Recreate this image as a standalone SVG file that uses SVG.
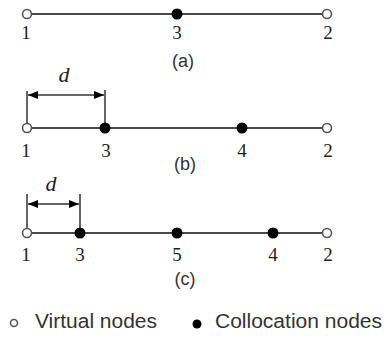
<svg xmlns="http://www.w3.org/2000/svg" width="384" height="340" viewBox="0 0 384 340">
<style>
.ln{stroke:#4a4a4a;stroke-width:1.8;fill:none}
.tk{stroke:#333;stroke-width:1.5;fill:none}
.vn{fill:#fff;stroke:#555;stroke-width:1.6}
.cn{fill:#000}
.num{font-family:"Liberation Serif",serif;font-size:19px;fill:#222;text-anchor:middle}
.cap{font-family:"Liberation Sans",sans-serif;font-size:18px;fill:#333;text-anchor:middle}
.d{font-family:"Liberation Serif",serif;font-style:italic;font-size:22px;fill:#222;text-anchor:middle}
.leg{font-family:"Liberation Sans",sans-serif;font-size:20px;fill:#333}
</style>
<defs>
<marker id="ah" viewBox="0 0 10 10" refX="10" refY="5" markerWidth="10" markerHeight="10" markerUnits="userSpaceOnUse" orient="auto-start-reverse">
<path d="M0,1 L10,5 L0,9 Z" fill="#000"/>
</marker>
</defs>
<g id="connectors">
<line class="ln" x1="27" y1="14" x2="327" y2="14"/>
<line class="ln" x1="27" y1="128" x2="327" y2="128"/>
<line class="ln" x1="27" y1="233" x2="327" y2="233"/>
<line class="tk" x1="27" y1="91" x2="27" y2="128"/>
<line class="tk" x1="105" y1="90" x2="105" y2="128"/>
<line class="tk" x1="28" y1="95" x2="104" y2="95" marker-start="url(#ah)" marker-end="url(#ah)"/>
<line class="tk" x1="27" y1="194" x2="27" y2="233"/>
<line class="tk" x1="80" y1="194" x2="80" y2="233"/>
<line class="tk" x1="28" y1="204" x2="79" y2="204" marker-start="url(#ah)" marker-end="url(#ah)"/>
</g>
<g id="row-a">
<circle id="a1" class="vn" cx="27" cy="14" r="4.5"/>
<circle id="a3" class="cn" cx="177" cy="14" r="5.5"/>
<circle id="a2" class="vn" cx="327" cy="14" r="4.5"/>
<text class="num" x="26" y="39">1</text>
<text class="num" x="177" y="39">3</text>
<text class="num" x="328" y="39">2</text>
<text class="cap" x="183" y="67">(a)</text>
</g>
<g id="row-b">
<text class="d" x="64" y="82">d</text>
<circle id="b1" class="vn" cx="27" cy="128" r="4.5"/>
<circle id="b3" class="cn" cx="105" cy="128" r="5.5"/>
<circle id="b4" class="cn" cx="242" cy="128" r="5.5"/>
<circle id="b2" class="vn" cx="327" cy="128" r="4.5"/>
<text class="num" x="26" y="157">1</text>
<text class="num" x="106" y="157">3</text>
<text class="num" x="242" y="157">4</text>
<text class="num" x="328" y="157">2</text>
<text class="cap" x="185" y="170">(b)</text>
</g>
<g id="row-c">
<text class="d" x="51" y="191">d</text>
<circle id="c1" class="vn" cx="27" cy="233" r="4.5"/>
<circle id="c3" class="cn" cx="80" cy="233" r="5.5"/>
<circle id="c5" class="cn" cx="177" cy="233" r="5.5"/>
<circle id="c4" class="cn" cx="273" cy="233" r="5.5"/>
<circle id="c2" class="vn" cx="327" cy="233" r="4.5"/>
<text class="num" x="26" y="261">1</text>
<text class="num" x="80" y="261">3</text>
<text class="num" x="177" y="261">5</text>
<text class="num" x="273" y="261">4</text>
<text class="num" x="328" y="261">2</text>
<text class="cap" x="185" y="285">(c)</text>
</g>
<g id="legend">
<circle class="vn" cx="14" cy="323" r="3.5"/>
<text class="leg" x="35" y="328" textLength="122" lengthAdjust="spacingAndGlyphs">Virtual nodes</text>
<circle class="cn" cx="197" cy="324" r="4.5"/>
<text class="leg" x="215" y="328" textLength="167" lengthAdjust="spacingAndGlyphs">Collocation nodes</text>
</g>
</svg>
